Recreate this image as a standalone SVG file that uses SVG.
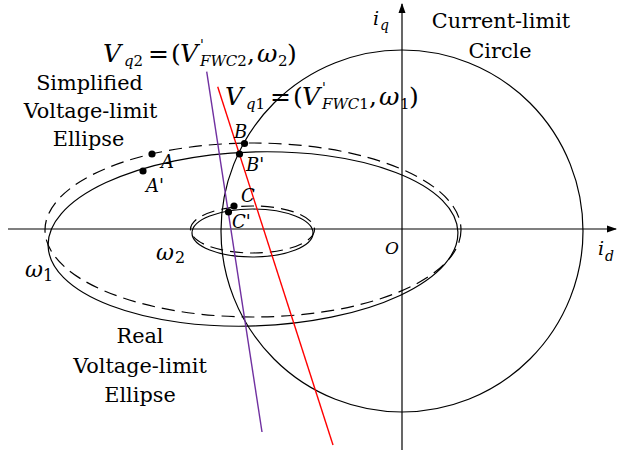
<svg xmlns="http://www.w3.org/2000/svg" width="621" height="453" viewBox="0 0 621 453">
<defs>
<marker id="arr" viewBox="0 0 10 10" refX="9" refY="5" markerWidth="10" markerHeight="10" markerUnits="userSpaceOnUse" orient="auto">
<path d="M0,1.5 L10,5 L0,8.5 Z" fill="#000"/>
</marker>
<style>
.ln{fill:none;stroke:#000;stroke-width:1.2}
.ds{fill:none;stroke:#000;stroke-width:1.2;stroke-dasharray:13,7}
.lbl{font-family:"DejaVu Serif",serif;font-size:20.8px;fill:#000;text-anchor:middle}
.m{font-family:"DejaVu Serif",serif;font-style:italic;fill:#000}
.u{font-style:normal}
.dot{fill:#000}
</style>
</defs>
<rect width="621" height="453" fill="#fff"/>
<g id="axes">
<line class="ln" x1="8" y1="229" x2="616" y2="229" marker-end="url(#arr)"/>
<line class="ln" x1="402" y1="450" x2="402" y2="4" marker-end="url(#arr)"/>
<text class="m" font-size="19"><tspan x="373" y="25">i</tspan><tspan x="380" y="30" font-size="14">q</tspan></text>
<text class="m" font-size="19"><tspan x="598" y="255">i</tspan><tspan x="605" y="261" font-size="14">d</tspan></text>
<text class="m" font-size="17" x="385" y="254">O</text>
</g>
<g id="current-limit-circle">
<circle class="ln" cx="402" cy="231" r="181"/>
<text class="lbl"><tspan x="501" y="28">Current-limit</tspan><tspan x="500" y="58">Circle</tspan></text>
</g>
<g id="real-ellipse">
<ellipse class="ln" cx="253" cy="239" rx="205" ry="87" transform="rotate(-2 253 239)"/>
<ellipse class="ln" cx="252.5" cy="233" rx="60.5" ry="24"/>
<text class="lbl"><tspan x="140" y="343">Real</tspan><tspan x="140" y="373">Voltage-limit</tspan><tspan x="140" y="402">Ellipse</tspan></text>
</g>
<g id="simplified-ellipse">
<ellipse class="ds" cx="253" cy="230" rx="208" ry="87"/>
<ellipse class="ds" cx="252.5" cy="229.5" rx="62" ry="23.5"/>
<text class="lbl"><tspan x="89.5" y="90">Simplified</tspan><tspan x="90.5" y="118">Voltage-limit</tspan><tspan x="88.5" y="146">Ellipse</tspan></text>
</g>
<g id="omega-labels">
<text class="m" font-size="22"><tspan x="156" y="260">ω</tspan><tspan x="175" y="263" font-size="16" class="u">2</tspan></text>
<text class="m" font-size="22"><tspan x="25" y="277">ω</tspan><tspan x="43" y="281" font-size="16" class="u">1</tspan></text>
</g>
<g id="connectors">
<line x1="206.7" y1="71.7" x2="262" y2="432" stroke="#7030A0" stroke-width="1.4"/>
<line x1="217.7" y1="86.7" x2="333" y2="445" stroke="#FF0000" stroke-width="1.4"/>
</g>
<g id="vq2-label">
<text class="m" font-size="25"><tspan x="103" y="62">V</tspan><tspan x="124" y="66" font-size="15">q</tspan><tspan font-size="15" class="u">2</tspan><tspan x="148" y="62" class="u">=</tspan><tspan x="171" y="62" class="u">(</tspan><tspan x="180" y="62">V</tspan><tspan x="200" y="50" font-size="14" class="u">'</tspan><tspan x="200" y="66" font-size="15">FWC</tspan><tspan font-size="15" class="u">2</tspan><tspan x="247" y="62" class="u">,</tspan><tspan x="257" y="62">ω</tspan><tspan x="278" y="66" font-size="15" class="u">2</tspan><tspan x="287" y="62" class="u">)</tspan></text>
</g>
<g id="vq1-label">
<text class="m" font-size="25"><tspan x="225" y="105">V</tspan><tspan x="246" y="109" font-size="15">q</tspan><tspan font-size="15" class="u">1</tspan><tspan x="270" y="105" class="u">=</tspan><tspan x="293" y="105" class="u">(</tspan><tspan x="302" y="105">V</tspan><tspan x="322" y="93" font-size="14" class="u">'</tspan><tspan x="322" y="109" font-size="15">FWC</tspan><tspan font-size="15" class="u">1</tspan><tspan x="369" y="105" class="u">,</tspan><tspan x="379" y="105">ω</tspan><tspan x="400" y="109" font-size="15" class="u">1</tspan><tspan x="409" y="105" class="u">)</tspan></text>
</g>
<g id="points">
<circle class="dot" cx="152" cy="154" r="3.6"/>
<circle class="dot" cx="143" cy="171" r="3.6"/>
<circle class="dot" cx="244.5" cy="143.5" r="3.6"/>
<circle class="dot" cx="239.5" cy="154" r="3.6"/>
<circle class="dot" cx="234" cy="206" r="3.6"/>
<circle class="dot" cx="228.5" cy="212" r="3.6"/>
<text class="m" font-size="18"><tspan x="161" y="168">A</tspan><tspan x="146" y="192">A'</tspan><tspan x="234" y="138">B</tspan><tspan x="246" y="171">B'</tspan><tspan x="241" y="202">C</tspan><tspan x="232" y="228">C'</tspan></text>
</g>
</svg>
